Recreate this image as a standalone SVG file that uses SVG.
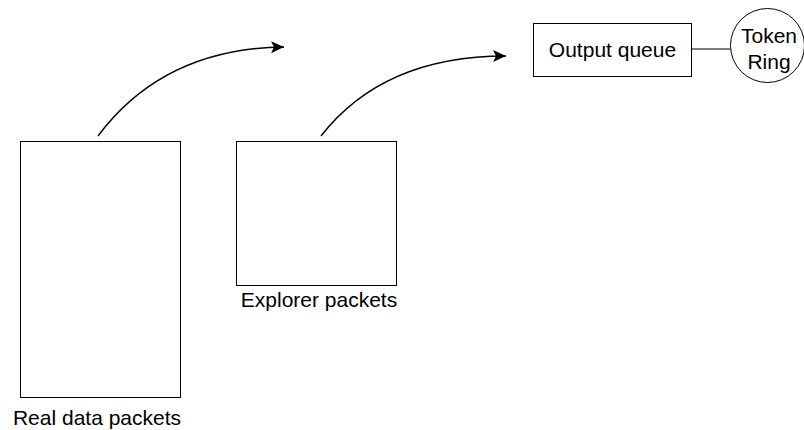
<svg xmlns="http://www.w3.org/2000/svg" width="804" height="430" viewBox="0 0 804 430">
<style>
.box{fill:#fff;stroke:#000;stroke-width:1}
.lbl{font-family:"Liberation Sans",Arial,sans-serif;font-size:21px;fill:#000;text-anchor:middle}
.conn{fill:none;stroke:#000;stroke-width:1.5}
.line{fill:none;stroke:#000;stroke-width:1}
</style>
<defs>
<marker id="ah" markerUnits="userSpaceOnUse" markerWidth="16" markerHeight="14" refX="13" refY="6" orient="auto" viewBox="0 0 16 12">
<path d="M0,0 L13,6 L0,12 L3,6 Z" fill="#000"/>
</marker>
</defs>
<rect width="804" height="430" fill="#fff"/>
<g id="connectors">
<path class="conn" d="M98,136 C140,80 200,48 284,47" marker-end="url(#ah)"/>
<path class="conn" d="M321,136 C360,86 420,56 506,56" marker-end="url(#ah)"/>
<line class="line" x1="691.5" y1="49" x2="730.5" y2="49"/>
</g>
<g id="real-data-packets">
<rect class="box" x="20.5" y="141.5" width="160" height="256"/>
<text class="lbl" x="97" y="425">Real data packets</text>
</g>
<g id="explorer-packets">
<rect class="box" x="236.5" y="141.5" width="160" height="144"/>
<text class="lbl" x="319" y="307">Explorer packets</text>
</g>
<g id="output-queue">
<rect class="box" x="533.5" y="23.5" width="158" height="53"/>
<text class="lbl" x="612.5" y="57">Output queue</text>
</g>
<g id="token-ring">
<circle class="box" cx="767.5" cy="45.5" r="37"/>
<text class="lbl" x="769" y="43">Token</text>
<text class="lbl" x="769" y="69">Ring</text>
</g>
</svg>
